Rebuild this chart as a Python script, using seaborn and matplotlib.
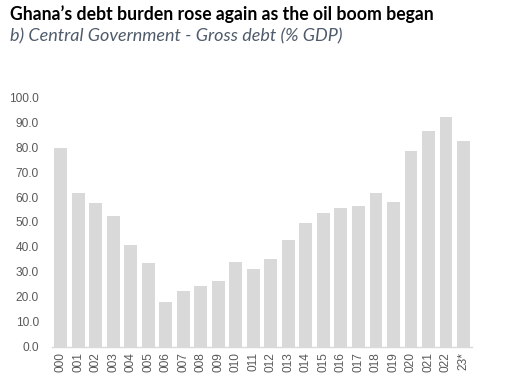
import matplotlib
matplotlib.use("Agg")
import matplotlib.pyplot as plt
import seaborn as sns
import pandas as pd

years = ["2000", "2001", "2002", "2003", "2004", "2005", "2006", "2007", "2008", "2009",
         "2010", "2011", "2012", "2013", "2014", "2015", "2016", "2017", "2018", "2019",
         "2020", "2021", "2022", "2023*"]
# tick labels as they appear (leading digit cropped in the reference)
tick_labels = ["000", "001", "002", "003", "004", "005", "006", "007", "008", "009",
               "010", "011", "012", "013", "014", "015", "016", "017", "018", "019",
               "020", "021", "022", "23*"]
debt = [79.8, 61.5, 57.5, 52.5, 40.8, 33.5, 18.0, 22.5, 24.3, 26.5,
        34.1, 31.0, 35.0, 42.6, 49.7, 53.6, 55.5, 56.6, 61.5, 58.2,
        78.6, 86.3, 92.2, 82.6]
yticks = [0, 10, 20, 30, 40, 50, 60, 70, 80, 90, 100]

df = pd.DataFrame({"year": years, "debt": debt})

sns.set_theme(style="white")
plt.rcParams["font.family"] = ["Liberation Sans", "DejaVu Sans"]

fig = plt.figure(figsize=(5.11, 3.75), dpi=100)
ax = fig.add_axes([0.1018, 0.0755, 0.822, 0.665])

sns.barplot(data=df, x="year", y="debt", color="#D9D9D9", saturation=1,
            width=0.72, ax=ax, edgecolor="none")

tick_font = ["Liberation Sans", "DejaVu Sans"]
ax.set_ylim(0, 100)
ax.set_xlim(-0.5, len(years) - 0.5)
ax.set_yticks(yticks)
ax.set_yticklabels([f"{v:.1f}" for v in yticks], fontsize=8.6, color="#595959", family=tick_font)
ax.set_xticks(range(len(years)))
ax.set_xticklabels(tick_labels, family=tick_font)
ax.tick_params(axis="y", length=0, pad=9.5)
ax.tick_params(axis="x", length=0, pad=4, labelrotation=90, labelsize=8.6, labelcolor="#595959")
for lab in ax.get_xticklabels():
    lab.set_verticalalignment("top")
ax.set_xlabel("")
ax.set_ylabel("")
for s in ["top", "right", "left"]:
    ax.spines[s].set_visible(False)
ax.spines["bottom"].set_color("#D9D9D9")
ax.spines["bottom"].set_linewidth(1.0)

fig.text(0.02, 0.962, "Ghana\u2019s debt burden rose again as the oil boom began",
         fontsize=12.7, fontweight="bold", color="black", family=["Lato", "DejaVu Sans"],
         va="center", ha="left")
fig.text(0.02, 0.903, "b) Central Government - Gross debt (% GDP)",
         fontsize=13, fontstyle="italic", color="#4F5B6B", family=["Lato", "DejaVu Sans"],
         va="center", ha="left")

fig.savefig("out.png", dpi=100)
